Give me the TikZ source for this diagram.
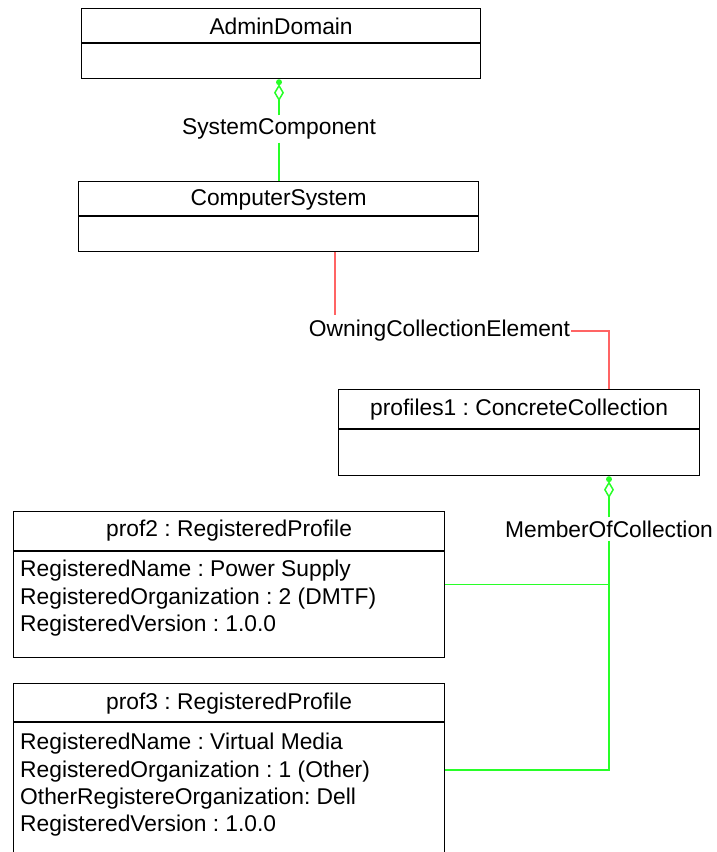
\documentclass[tikz,border=0pt]{standalone}
\usepackage{fontspec}
\setmainfont{Liberation Sans}
\usetikzlibrary{arrows.meta,calc,positioning}
\definecolor{umlgreen}{RGB}{40,255,40}
\definecolor{umlred}{RGB}{255,100,100}
\frenchspacing
\tikzset{
  classbox/.style={draw, line width=1.2pt, anchor=north west, inner sep=0pt},
  classname/.style={font=\fontsize{22.8}{27.3}\selectfont, inner sep=0pt},
  attrs/.style={font=\fontsize{22.8}{27.3}\selectfont, align=left, anchor=north west, inner sep=0pt},
  rolename/.style={font=\fontsize{22.8}{27.3}\selectfont, inner xsep=1pt, inner ysep=3pt},
  greenline/.style={umlgreen, line width=1.5pt},
  redline/.style={umlred, line width=1.3pt},
  aggr/.style={greenline, -{Diamond[open, length=17pt, width=10pt]}, shorten >=5pt},
}

\begin{document}
\begin{tikzpicture}[x=1pt, y=-1pt]
\useasboundingbox (0,0) rectangle (717,852);
% классы
\node[classbox, minimum width=399pt, minimum height=70pt] (admin) at (81,8) {};
\node[classname] (adminName) at ($(admin.north)+(0,18.5)$) {AdminDomain};
\draw[line width=1.2pt] ($(admin.north west)+(0,35)$) -- ($(admin.north east)+(0,35)$);

\node[classbox, minimum width=400pt, minimum height=70pt] (comp) at (78,181) {};
\node[classname] (compName) at ($(comp.north)+(0,19)$) {ComputerSystem};
\draw[line width=1.2pt] ($(comp.north west)+(0,35)$) -- ($(comp.north east)+(0,35)$);

\node[classbox, minimum width=361pt, minimum height=86pt] (coll) at (338,389) {};
\node[classname] (collName) at ($(coll.north)+(0,20.5)$) {profiles1 : ConcreteCollection};
\draw[line width=1.2pt] ($(coll.north west)+(0,40)$) -- ($(coll.north east)+(0,40)$);

\node[classbox, minimum width=431pt, minimum height=146pt] (prof2) at (13,511) {};
\node[classname] (prof2Name) at ($(prof2.north)+(0,20)$) {prof2 : RegisteredProfile};
\draw[line width=1.2pt] ($(prof2.north west)+(0,40)$) -- ($(prof2.north east)+(0,40)$);
\node[attrs] (prof2Attr) at ($(prof2.north west)+(7,49)$)
  {RegisteredName : Power Supply\\
   RegisteredOrganization : 2 (DMTF)\\
   RegisteredVersion : 1.0.0};

\node[classbox, minimum width=431pt, minimum height=173pt] (prof3) at (13,683) {};
\node[classname] (prof3Name) at ($(prof3.north)+(0,20.5)$) {prof3 : RegisteredProfile};
\draw[line width=1.2pt] ($(prof3.north west)+(0,39)$) -- ($(prof3.north east)+(0,39)$);
\node[attrs] (prof3Attr) at ($(prof3.north west)+(7,50)$)
  {RegisteredName : Virtual Media\\
   RegisteredOrganization : 1 (Other)\\
   OtherRegistereOrganization: Dell\\
   RegisteredVersion : 1.0.0};

% подписи связей
\node[rolename] (sysc) at (279,129) {SystemComponent};
\node[rolename] (owning) at (439.5,331) {OwningCollectionElement};
\node[rolename] (memb) at (609,529) {MemberOfCollection};
\coordinate (oceTop) at (335,315);

% связи
\draw[aggr] (sysc.north) -- (sysc.north |- admin.south);
\fill[umlgreen] ($(sysc.north |- admin.south)+(0,3)$) circle [radius=3pt];
\draw[greenline] (sysc.south) -- (sysc.south |- comp.north);

\draw[redline] (comp.south -| oceTop) -- (oceTop);
\draw[redline] (owning.east) -| (memb |- coll.north);

\draw[aggr] (memb.north) -- (memb.north |- coll.south);
\fill[umlgreen] ($(memb.north |- coll.south)+(0,3)$) circle [radius=3pt];
\draw[greenline] (memb.south) |- (prof3.east);
\draw[greenline] (prof2.east) -- (prof2.east -| memb.south);
\end{tikzpicture}
\end{document}
